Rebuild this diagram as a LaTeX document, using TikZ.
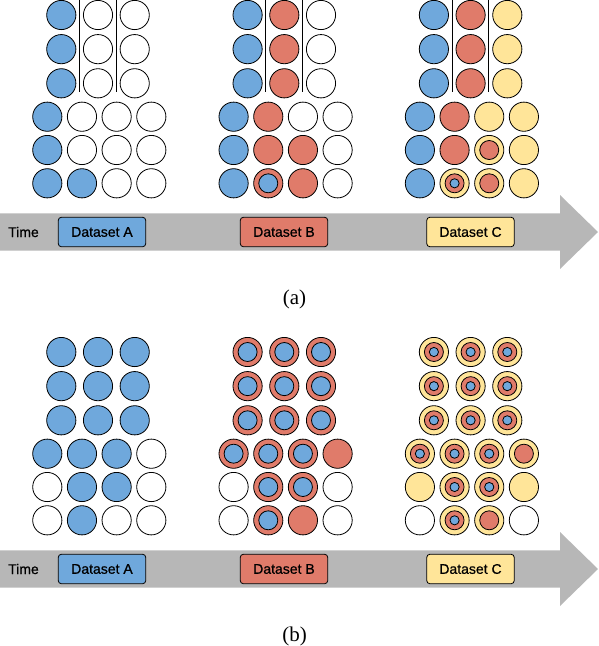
\documentclass[tikz,border=0pt]{standalone}
\usepackage{fontspec}
\setmainfont{Liberation Serif}
\newfontfamily\boxfont[FakeBold=0.7]{Liberation Sans}
\usetikzlibrary{positioning}
\definecolor{ballblue}{HTML}{6FA8DC}
\definecolor{ballred}{HTML}{E07B6A}
\definecolor{ballyellow}{HTML}{FFE599}
\definecolor{timegray}{HTML}{B7B7B7}

\tikzset{ball/.style={draw=black,line width=0.8pt}}
\newcommand{\rout}{14.6}
\newcommand{\rmid}{9.5}
\newcommand{\rin}{4.6}
\newcommand{\ballW}[1]{\draw[ball,fill=white] (#1) circle (\rout);}
\newcommand{\ballB}[1]{\draw[ball,fill=ballblue] (#1) circle (\rout);}
\newcommand{\ballR}[1]{\draw[ball,fill=ballred] (#1) circle (\rout);}
\newcommand{\ballY}[1]{\draw[ball,fill=ballyellow] (#1) circle (\rout);}
\newcommand{\ballRB}[1]{\ballR{#1}\draw[ball,fill=ballblue] (#1) circle (\rmid);}
\newcommand{\ballYR}[1]{\ballY{#1}\draw[ball,fill=ballred] (#1) circle (\rmid);}
\newcommand{\ballYRB}[1]{\ballYR{#1}\draw[ball,fill=ballblue] (#1) circle (\rin);}
\newcommand{\ballgroup}[4]{%
  \foreach \row [count=\r] in {#3} {
    \foreach \c [count=\i] in \row {
      \csname ball\c\endcsname{#1+24.6+36.7*\i, #2-19.15+34.15*\r}
    }
  }
  \foreach \row [count=\r] in {#4} {
    \foreach \c [count=\i] in \row {
      \csname ball\c\endcsname{#1+12.63+34.67*\i, #2+83.4+33.3*\r}
    }
  }
}

\begin{document}
\begin{tikzpicture}[
  x=1pt,y=-1pt,
  node distance=17pt,
  dsbox/.style={rectangle,rounded corners=3pt,minimum width=87.4pt,
    minimum height=29.4pt,draw=black,line width=0.8pt,
    font=\boxfont\fontsize{14}{16}\selectfont},
  timelabel/.style={inner sep=0pt,font=\boxfont\fontsize{14}{16}\selectfont},
  caption/.style={font=\fontsize{21}{24}\selectfont},
  divider/.style={draw=black,line width=0.8pt}
]
  \useasboundingbox (0,0) rectangle (598,646);

  \foreach \dy/\tag in {0/a,337/b} {
    \fill[timegray] (0,213.3+\dy) -- (560,213.3+\dy) -- (560,195+\dy)
      -- (598,232+\dy) -- (560,269+\dy) -- (560,250.7+\dy) -- (0,250.7+\dy) -- cycle;
    \node[timelabel,anchor=west] (time\tag) at (8,232+\dy) {Time};
    \node[dsbox,fill=ballblue] (dsA\tag) at (102,232+\dy) {Dataset A};
    \node[dsbox,fill=ballred] (dsB\tag) at (284,232+\dy) {Dataset B};
    \node[dsbox,fill=ballyellow] (dsC\tag) at (470.5,232+\dy) {Dataset C};
    \node[caption] (cap\tag) at (294.5,299+\dy) {(\tag)};
  }

  \ballgroup{0}{0}{{B,W,W},{B,W,W},{B,W,W}}{{B,W,W,W},{B,W,W,W},{B,B,W,W}}
  \ballgroup{186.3}{0}{{B,R,W},{B,R,W},{B,R,W}}{{B,R,W,W},{B,R,R,W},{B,RB,R,W}}
  \ballgroup{372.6}{0}{{B,R,Y},{B,R,Y},{B,R,Y}}{{B,R,Y,Y},{B,R,YR,Y},{B,YRB,YR,Y}}
  \foreach \gx in {0,186.3,372.6} {
    \draw[divider] (\gx+79.5,0) -- (\gx+79.5,91.7);
    \draw[divider] (\gx+116,0) -- (\gx+116,91.7);
  }

  \ballgroup{0}{337}{{B,B,B},{B,B,B},{B,B,B}}{{B,B,B,W},{W,B,B,W},{W,B,W,W}}
  \ballgroup{186.3}{337}{{RB,RB,RB},{RB,RB,RB},{RB,RB,RB}}{{RB,RB,RB,R},{W,RB,RB,W},{W,RB,R,W}}
  \ballgroup{372.6}{337}{{YRB,YRB,YRB},{YRB,YRB,YRB},{YRB,YRB,YRB}}{{YRB,YRB,YRB,YR},{Y,YRB,YRB,Y},{W,YRB,YR,W}}
\end{tikzpicture}
\end{document}
